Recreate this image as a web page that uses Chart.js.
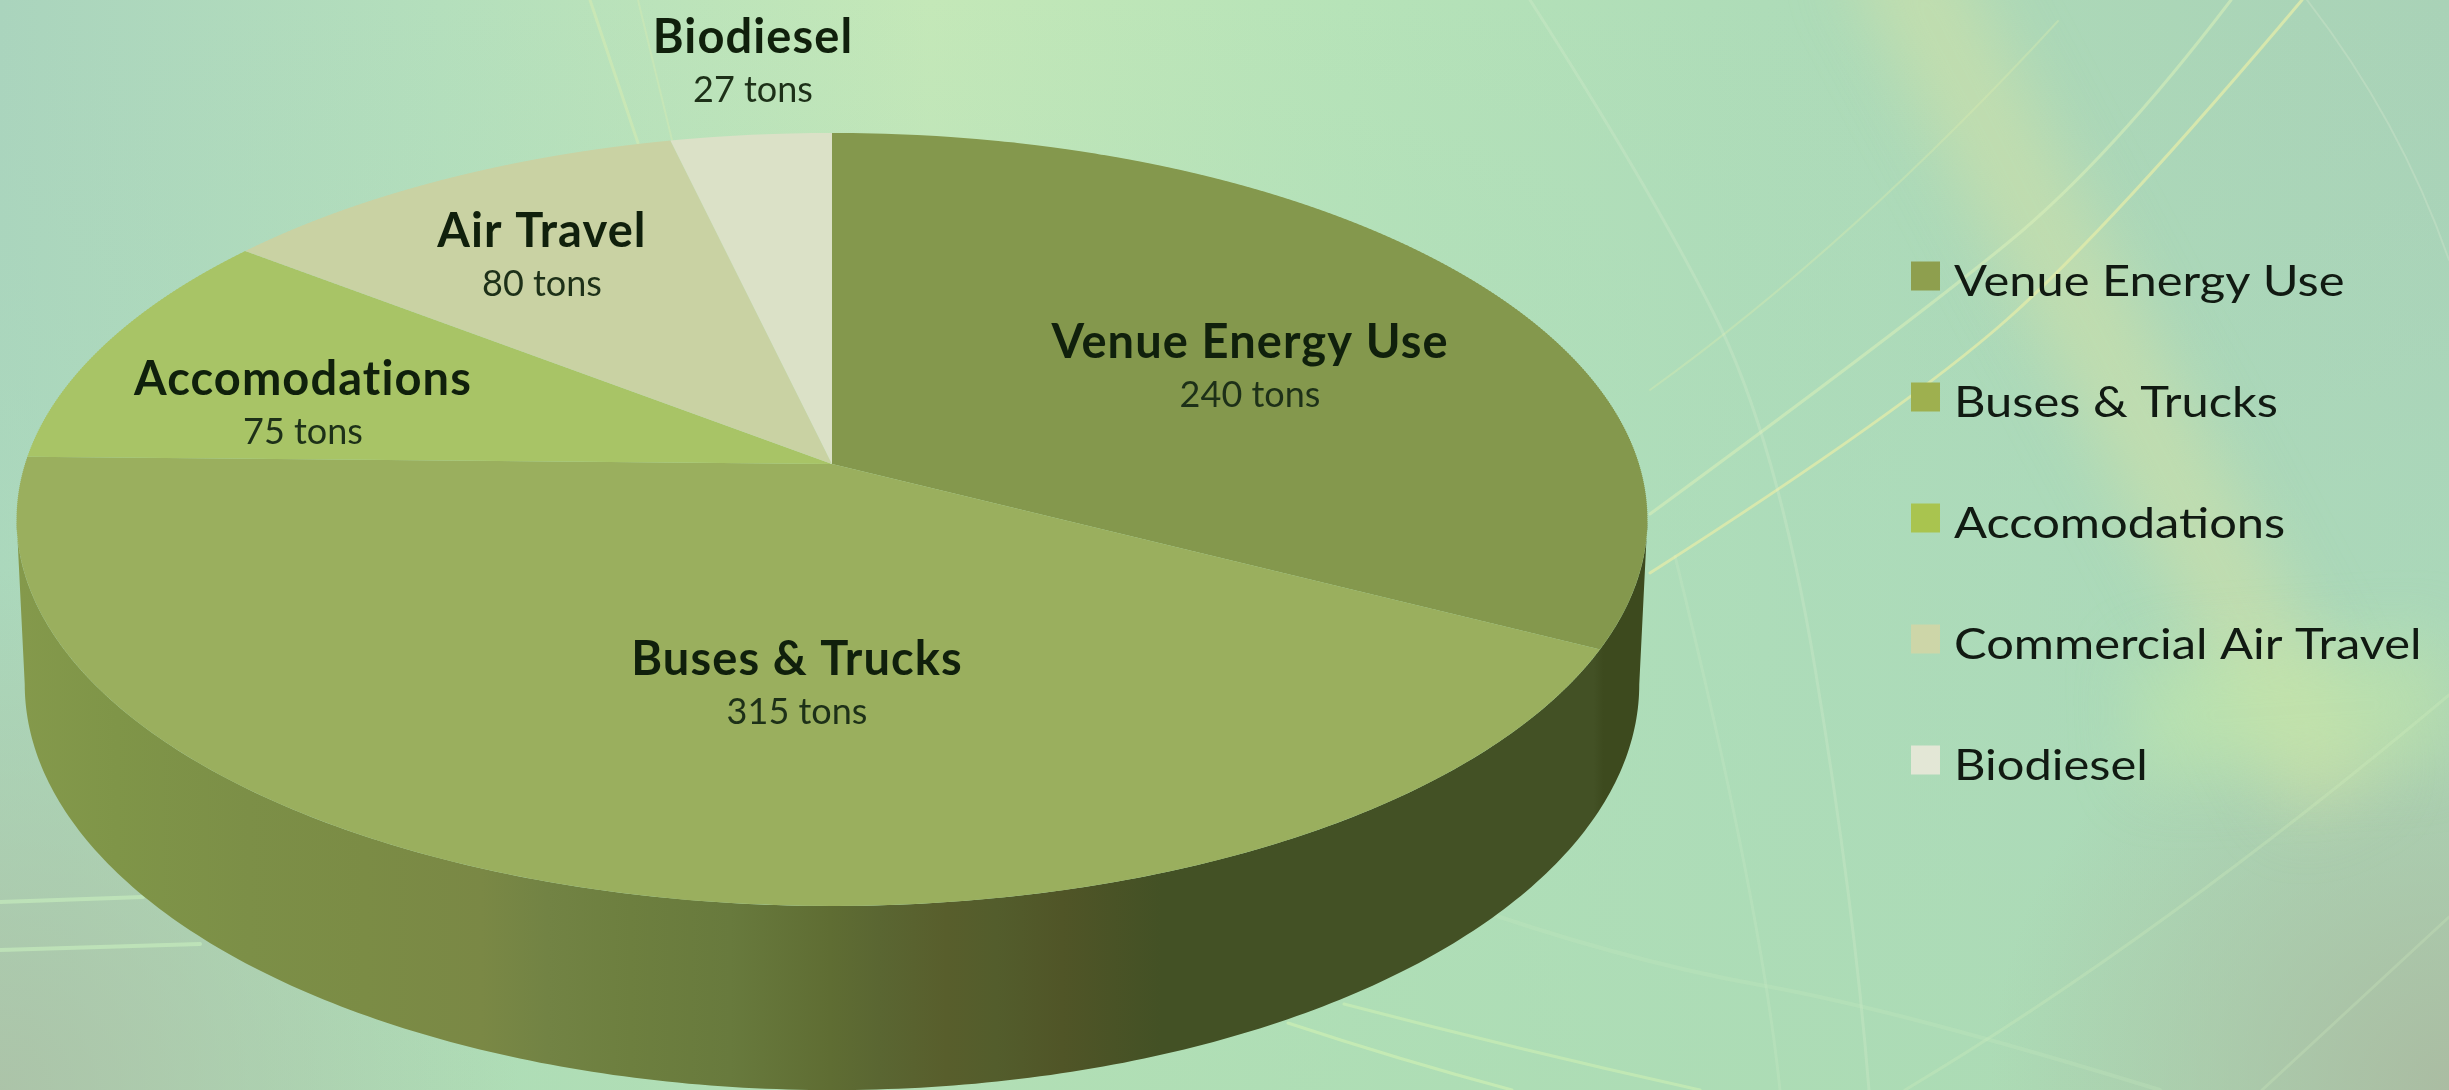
<!DOCTYPE html>
<html><head><meta charset="utf-8">
<style>html,body{margin:0;padding:0;background:#b5dcbc;overflow:hidden}canvas{display:block;filter:blur(.6px)}</style>
<script src="https://cdn.jsdelivr.net/npm/chart.js@4"></script>
</head><body><canvas id="c" width="2449" height="1090" style="width:2449px;height:1090px"></canvas>
<script>
const categories = ["Venue Energy Use","Buses & Trucks","Accomodations","Commercial Air Travel","Biodiesel"];
const sliceNames = ["Venue Energy Use","Buses & Trucks","Accomodations","Air Travel","Biodiesel"];
const tons = [240,315,75,80,27];
const sliceColors = ["#84984d","#9aaf5e","#a8c466","#c9d2a3","#dbe1c7"];
const legendColors = ["#8e9f4e","#9eb04f","#a9c44f","#cdd6a8","#e3e7d6"];
const labelCenters = [[1250,343],[797,660],[303,380],[542,232],[753,38]];
const VIEW = {x:832,y:464,w:807,h:378.6,p:0.1434,kx:0.99,ky:1.05,dz:162};
const FONT = 'Lato';

function smooth(ctx,pts){
  ctx.beginPath();ctx.moveTo(pts[0][0],pts[0][1]);
  for(let i=1;i<pts.length-1;i++){
    const last=i==pts.length-2;
    const mx=(pts[i][0]+pts[i+1][0])/2,my=(pts[i][1]+pts[i+1][1])/2;
    ctx.quadraticCurveTo(pts[i][0],pts[i][1],last?pts[i+1][0]:mx,last?pts[i+1][1]:my);
  }
  if(pts.length==2)ctx.lineTo(pts[1][0],pts[1][1]);
  ctx.stroke();
}
function paintBackground(ctx,W,H){
  let g=ctx.createLinearGradient(0,0,W,0);
  g.addColorStop(0,'#aad4bd');g.addColorStop(.18,'#b4dfbc');g.addColorStop(.38,'#c4e8b8');
  g.addColorStop(.55,'#b6e3b8');g.addColorStop(.72,'#aedcb8');g.addColorStop(1,'#a9d2b7');
  ctx.fillStyle=g;ctx.fillRect(0,0,W,H);
  g=ctx.createLinearGradient(0,0,0,H);
  g.addColorStop(0,'rgba(170,215,190,0)');g.addColorStop(.45,'rgba(172,220,188,.45)');g.addColorStop(1,'rgba(172,220,180,.75)');
  ctx.fillStyle=g;ctx.fillRect(0,0,W,H);
  g=ctx.createRadialGradient(0,1090,0,0,1090,520);
  g.addColorStop(0,'rgba(172,190,165,.8)');g.addColorStop(1,'rgba(172,190,165,0)');
  ctx.fillStyle=g;ctx.fillRect(0,0,W,H);
  g=ctx.createRadialGradient(2449,1090,0,2449,1090,460);
  g.addColorStop(0,'rgba(170,185,160,.9)');g.addColorStop(1,'rgba(170,185,160,0)');
  ctx.fillStyle=g;ctx.fillRect(0,0,W,H);
  ctx.save();ctx.filter='blur(32px)';ctx.lineCap='butt';
  ctx.strokeStyle='rgba(215,225,165,.48)';ctx.lineWidth=100;
  ctx.beginPath();ctx.moveTo(1890,-60);ctx.lineTo(2340,800);ctx.stroke();
  ctx.strokeStyle='rgba(195,232,170,.55)';ctx.lineWidth=120;
  ctx.beginPath();ctx.moveTo(2140,720);ctx.lineTo(2449,700);ctx.stroke();
  ctx.restore();
  const lines=[
   ['rgba(225,235,170,.8)',3,[[1650,573],[1905,410],[2109,229],[2302,0]]],
   ['rgba(215,238,185,.6)',3,[[1650,514],[1905,327],[2109,160],[2231,0]]],
   ['rgba(215,235,175,.4)',2,[[1650,390],[1854,243],[2058,21]]],
   ['rgba(235,245,215,.2)',3,[[1530,0],[1650,188],[1777,438],[1854,904],[1869,1090]]],
   ['rgba(235,245,215,.14)',3,[[1675,556],[1760,900],[1780,1090]]],
   ['rgba(230,240,215,.25)',2,[[2307,0],[2400,120],[2449,260]]],
   ['rgba(210,240,190,.3)',3,[[1905,1090],[2160,938],[2449,695]]],
   ['rgba(210,240,190,.25)',3,[[2262,1090],[2449,917]]],
   ['rgba(205,240,180,.7)',3,[[1288,1023],[1400,1060],[1512,1090]]],
   ['rgba(205,240,180,.6)',3,[[1344,1004],[1520,1050],[1700,1090]]],
   ['rgba(200,235,190,.25)',4,[[1450,900],[1620,960],[1900,1010],[2160,1090]]],
   ['rgba(200,240,190,.6)',4,[[0,902],[143,897]]],
   ['rgba(200,240,190,.6)',4,[[0,950],[200,944]]],
   ['rgba(225,240,175,.4)',3,[[590,0],[638,143]]],
   ['rgba(225,240,175,.3)',2,[[638,0],[672,140]]]
  ];
  ctx.lineCap='round';
  for(const [c,w,p] of lines){ctx.strokeStyle=c;ctx.lineWidth=w;smooth(ctx,p);}
}
function wallPath(ctx){
  const V=VIEW,top=[],bot=[],a0=Math.asin(V.p);
  const n=240;
  for(let i=0;i<=n;i++){
    const a=a0+(Math.PI-2*a0)*i/n;
    const u=Math.cos(a),v=Math.sin(a),s=1/(1-V.p*v);
    top.push([V.x+V.w*u*s,V.y+V.h*v*s]);
    bot.push([V.x+V.kx*V.w*u*s,V.y+V.dz+V.ky*V.h*v*s]);
  }
  ctx.beginPath();
  top.forEach((q,i)=>i?ctx.lineTo(q[0],q[1]):ctx.moveTo(q[0],q[1]));
  bot.reverse().forEach(q=>ctx.lineTo(q[0],q[1]));
  ctx.closePath();
}
const perspectivePie={id:'perspectivePie',
  afterLayout(chart){chart.legend.left=1911-chart.options.plugins.legend.labels.padding;},
  beforeDraw(chart){paintBackground(chart.ctx,chart.width,chart.height);},
  beforeDatasetsDraw(chart){
    const ctx=chart.ctx,V=VIEW,arcs=chart.getDatasetMeta(0).data,A=arcs[0],R=A.outerRadius,cx=A.x,cy=A.y;
    const g=ctx.createLinearGradient(0,0,1660,0);
    [[0,'#859a4c'],[.07,'#7f9548'],[.15,'#7c8f47'],[.22,'#7b8c45'],[.29,'#7a8845'],[.33,'#728344'],[.38,'#6d7f3f'],[.44,'#687a3d'],[.5,'#5f6d33'],[.53,'#5a6632'],[.57,'#585e2c'],[.6,'#535d2c'],[.64,'#505527'],[.7,'#435125'],[.96,'#435125'],[.966,'#3d4a1e'],[1,'#3d4a1e']].forEach(s=>g.addColorStop(s[0],s[1]));
    ctx.save();ctx.fillStyle=g;wallPath(ctx);ctx.fill();ctx.restore();
    const yTop=Math.floor(V.y-V.h/(1+V.p))-1,yBot=Math.ceil(V.y+V.h/(1-V.p))+1;
    for(let Y=yTop;Y<yBot;Y+=2){
      const t=(Y+1-V.y)/V.h,v=t/(1+V.p*t),s=1/(1-V.p*v);
      const a=V.w*s/R,d=V.h*s*s/R;
      ctx.save();ctx.beginPath();ctx.rect(0,Y,chart.width,2);ctx.clip();
      ctx.setTransform(a,0,0,d,V.x-a*cx,(Y+1)-d*(cy+R*v));
      arcs.forEach(el=>el.draw(ctx));
      ctx.restore();
    }
    return false;
  },
  afterDraw(chart){
    const ctx=chart.ctx;ctx.save();ctx.textAlign='center';ctx.textBaseline='middle';
    sliceNames.forEach((n,i)=>{
      const [x,y]=labelCenters[i];
      ctx.letterSpacing='1.1px';
      ctx.fillStyle='#10200c';ctx.font=`700 47px ${FONT}`;ctx.fillText(n,x,y);
      ctx.letterSpacing='0px';
      ctx.fillStyle='#1d3018';ctx.font=`400 36px ${FONT}`;ctx.fillText(tons[i]+' tons',x,y+52);
    });
    ctx.restore();
  }
};
const chart=new Chart(document.getElementById('c'),{
  type:'pie',
  data:{labels:categories,datasets:[{data:tons,backgroundColor:sliceColors,borderWidth:0}]},
  plugins:[perspectivePie],
  options:{responsive:false,animation:false,devicePixelRatio:1,
    layout:{padding:{top:176,right:0,bottom:0,left:0}},
    plugins:{tooltip:{enabled:false},
      legend:{position:'right',align:'start',
        labels:{boxWidth:29,boxHeight:29,padding:79,color:'#111a12',font:{family:FONT,size:42},
          generateLabels(c){return categories.map((t,i)=>({text:t,fillStyle:legendColors[i],strokeStyle:legendColors[i],fontColor:'#111a12',lineWidth:0,index:i}));}}}}}
});
// the reference's legend text is stretched horizontally and sits a little below its swatches
const baseDraw=chart.legend.draw.bind(chart.legend);
chart.legend.draw=function(){
  const ctx=chart.ctx,ft=ctx.fillText;
  ctx.fillText=function(t,x,y){
    ctx.save();ctx.translate(x-7,y+6);ctx.scale(1.163,1);ft.call(ctx,t,0,0);ctx.restore();
  };
  baseDraw();
  ctx.fillText=ft;
};
chart.draw();
</script></body></html>
